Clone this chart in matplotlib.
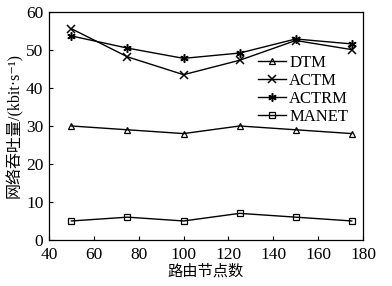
import matplotlib
matplotlib.use("Agg")
import matplotlib.pyplot as plt

nodes = [50, 75, 100, 125, 150, 175]
dtm = [30, 29, 28, 30, 29, 28]
actm = [55.6, 48.2, 43.5, 47.3, 52.5, 50.1]
actrm = [53.7, 50.5, 47.8, 49.2, 52.9, 51.6]
manet = [5, 6, 5, 7, 6, 5]
xticks = [40, 60, 80, 100, 120, 140, 160, 180]
yticks = [0, 10, 20, 30, 40, 50, 60]

plt.rcParams['font.family'] = ['Liberation Serif', 'Noto Sans CJK SC', 'DejaVu Sans']
fig = plt.figure(figsize=(3.92, 2.86), dpi=100)
ax = fig.add_axes([0.125, 0.161, 0.801, 0.797])
ms = 5
ax.plot(nodes, dtm, '-^', color='black', lw=1, ms=ms, mfc='none', mew=0.9, label='DTM')
ax.plot(nodes, actm, '-x', color='black', lw=1, ms=ms+1, mew=1.1, label='ACTM')
ax.plot(nodes, actrm, '-', marker=(6, 2, 0), color='black', lw=1, ms=ms+1, mew=1.1, label='ACTRM')
ax.plot(nodes, manet, '-s', color='black', lw=1, ms=ms, mfc='none', mew=0.9, label='MANET')
ax.set_xlim(40, 180)
ax.set_ylim(0, 60)
ax.set_xticks(xticks)
ax.set_yticks(yticks)
ax.tick_params(direction='in', labelsize=12.5, length=3, top=False, right=False)
ax.tick_params(axis='x', pad=5)
ax.tick_params(axis='y', pad=4)
for s in ax.spines.values():
    s.set_linewidth(0.9)
ax.set_xlabel('路由节点数', fontsize=11, family=['Noto Sans CJK SC'], labelpad=0)
ax.set_ylabel('网络吞吐量/(kbit·s⁻¹)', fontsize=11.5, labelpad=2)
leg = ax.legend(loc='upper right', bbox_to_anchor=(0.985, 0.855), frameon=False, fontsize=12,
                handlelength=1.7, handletextpad=0.2, labelspacing=0.12, borderaxespad=0.2)
fig.savefig('out.png', dpi=100)
